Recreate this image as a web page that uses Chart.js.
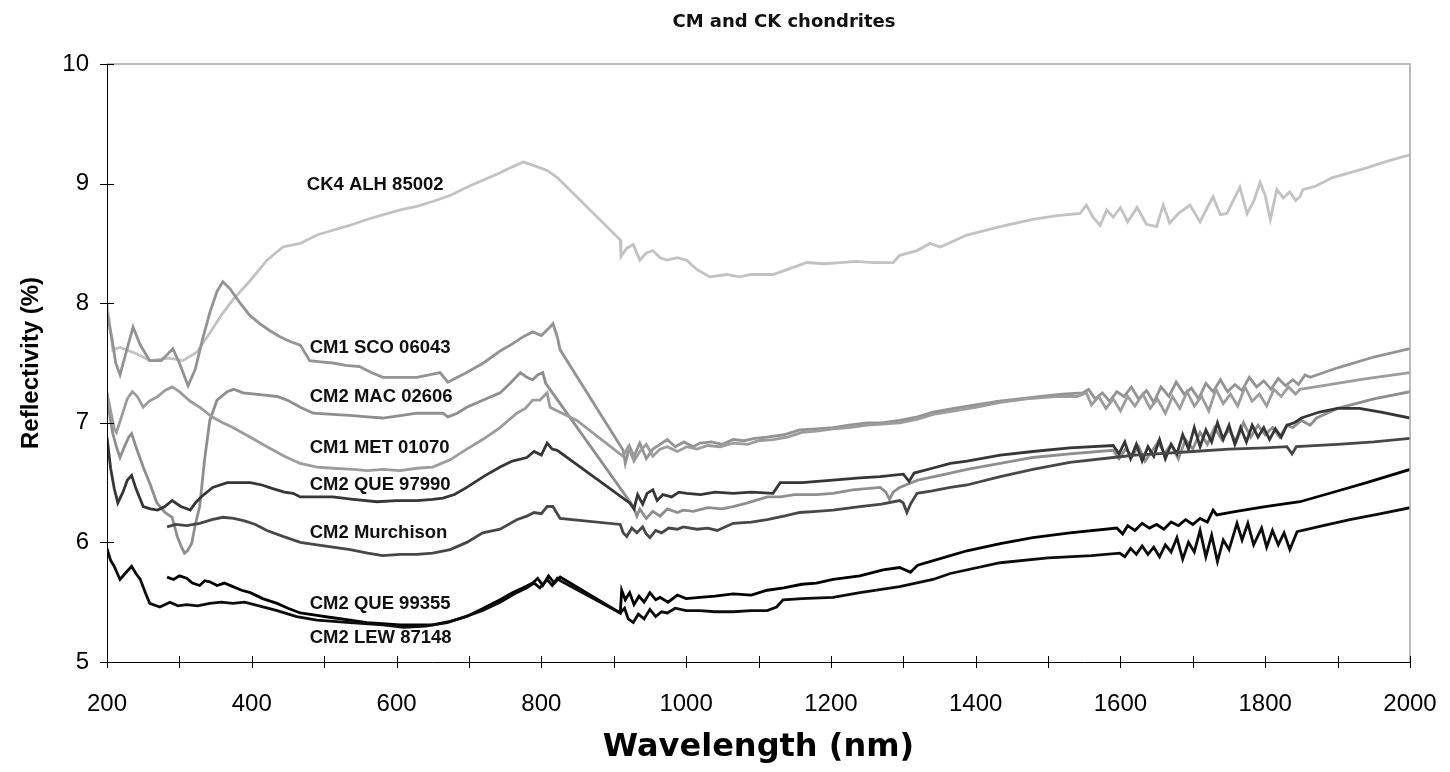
<!DOCTYPE html>
<html>
<head>
<meta charset="utf-8">
<title>CM and CK chondrites</title>
<script src="https://cdn.jsdelivr.net/npm/chart.js@4.4.1/dist/chart.umd.min.js"></script>
<style>
  html, body { margin: 0; padding: 0; background: #fff; }
  canvas { display: block; }
</style>
</head>
<body>
<canvas id="chart" width="1450" height="772"></canvas>
<script>
// spectra: [wavelength nm, reflectivity %]
const ck4Alh85002 = [
  [200,8.00],[208,7.61],[218,7.63],[240,7.58],[259,7.52],[285,7.54],[305,7.52],[324,7.59],[342,7.75],[358,7.90],
  [374,8.03],[398,8.19],[421,8.36],[443,8.47],[467,8.50],[490,8.57],[512,8.61],[535,8.65],[559,8.70],[582,8.74],
  [605,8.78],[628,8.81],[650,8.85],[674,8.90],[697,8.97],[720,9.03],[743,9.09],[760,9.14],[775,9.18],[790,9.15],
  [808,9.11],[822,9.05],[909,8.53],[910,8.39],[918,8.46],[927,8.49],[936,8.36],[945,8.42],[954,8.44],[964,8.38],
  [974,8.36],[988,8.38],[1001,8.36],[1015,8.28],[1033,8.22],[1056,8.24],[1074,8.22],[1090,8.24],[1102,8.24],[1120,8.24],
  [1148,8.30],[1167,8.34],[1190,8.33],[1213,8.34],[1235,8.35],[1258,8.34],[1286,8.34],[1295,8.40],[1319,8.44],[1337,8.50],
  [1351,8.47],[1388,8.57],[1434,8.64],[1479,8.70],[1510,8.73],[1544,8.75],[1553,8.82],[1562,8.72],[1572,8.65],[1581,8.78],
  [1590,8.72],[1600,8.80],[1610,8.68],[1623,8.80],[1636,8.66],[1650,8.64],[1659,8.82],[1668,8.67],[1680,8.75],[1696,8.82],
  [1710,8.68],[1720,8.80],[1728,8.89],[1738,8.74],[1747,8.75],[1756,8.86],[1765,8.97],[1775,8.75],[1784,8.85],[1793,9.01],
  [1800,8.90],[1807,8.70],[1816,8.95],[1825,8.88],[1834,8.93],[1842,8.86],[1848,8.89],[1852,8.95],[1870,8.98],[1893,9.05],
  [1939,9.13],[1970,9.19],[2000,9.24]
];
const cm1Sco06043 = [
  [200,7.92],[207,7.70],[212,7.50],[218,7.40],[226,7.58],[236,7.80],[246,7.65],[259,7.52],[275,7.52],[291,7.62],
  [300,7.50],[312,7.31],[322,7.45],[332,7.70],[342,7.92],[352,8.10],[360,8.18],[370,8.12],[384,8.00],[397,7.90],
  [411,7.83],[425,7.77],[439,7.72],[453,7.68],[467,7.65],[480,7.52],[495,7.51],[512,7.50],[530,7.48],[549,7.47],
  [565,7.42],[581,7.38],[605,7.38],[628,7.38],[645,7.40],[660,7.42],[671,7.34],[684,7.38],[697,7.42],[720,7.50],
  [743,7.60],[760,7.66],[775,7.72],[788,7.76],[800,7.73],[812,7.80],[816,7.83],[822,7.72],[826,7.61],[913,6.77],
  [916,6.66],[922,6.80],[928,6.72],[936,6.83],[945,6.70],[954,6.78],[964,6.82],[974,6.86],[985,6.80],[997,6.84],
  [1010,6.80],[1019,6.83],[1035,6.84],[1050,6.82],[1065,6.86],[1080,6.85],[1095,6.87],[1112,6.88],[1135,6.90],[1157,6.94],
  [1180,6.95],[1203,6.96],[1225,6.98],[1250,7.00],[1270,7.00],[1295,7.02],[1320,7.05],[1341,7.09],[1370,7.12],[1400,7.15],
  [1430,7.18],[1460,7.20],[1490,7.22],[1520,7.24],[1548,7.25],[1556,7.28],[1565,7.20],[1575,7.25],[1585,7.18],[1595,7.26],
  [1605,7.22],[1615,7.30],[1625,7.20],[1636,7.27],[1646,7.17],[1656,7.30],[1667,7.22],[1677,7.34],[1688,7.24],[1698,7.29],
  [1708,7.20],[1718,7.33],[1728,7.26],[1738,7.36],[1748,7.26],[1758,7.32],[1768,7.27],[1778,7.38],[1788,7.30],[1798,7.35],
  [1808,7.28],[1818,7.37],[1828,7.31],[1838,7.36],[1846,7.32],[1855,7.40],[1862,7.38],[1900,7.46],[1950,7.55],[2000,7.62]
];
const cm2Mac02606 = [
  [200,7.25],[204,7.05],[208,6.91],[213,6.80],[218,6.71],[224,6.80],[230,6.88],[234,6.91],[240,6.80],[250,6.63],
  [260,6.48],[269,6.33],[280,6.25],[290,6.21],[297,6.05],[303,5.96],[307,5.91],[311,5.93],[317,5.99],[322,6.15],
  [328,6.30],[335,6.70],[342,7.02],[352,7.19],[366,7.26],[375,7.28],[388,7.25],[405,7.24],[421,7.23],[435,7.22],
  [449,7.19],[467,7.13],[485,7.08],[512,7.07],[540,7.06],[560,7.05],[581,7.04],[605,7.06],[628,7.08],[650,7.08],
  [664,7.08],[671,7.05],[684,7.08],[697,7.13],[720,7.19],[743,7.25],[757,7.33],[771,7.42],[780,7.38],[788,7.36],
  [795,7.40],[802,7.42],[806,7.33],[927,6.30],[932,6.22],[936,6.28],[945,6.20],[954,6.26],[964,6.22],[974,6.28],
  [988,6.25],[996,6.27],[1010,6.26],[1030,6.29],[1050,6.28],[1065,6.30],[1085,6.33],[1112,6.38],[1130,6.38],[1150,6.40],
  [1180,6.40],[1203,6.41],[1230,6.44],[1268,6.46],[1276,6.42],[1281,6.36],[1286,6.42],[1295,6.46],[1320,6.52],[1365,6.58],
  [1388,6.61],[1434,6.66],[1479,6.71],[1530,6.74],[1590,6.77],[1598,6.70],[1607,6.78],[1616,6.72],[1625,6.80],[1634,6.68],
  [1643,6.76],[1652,6.84],[1661,6.74],[1670,6.82],[1680,6.70],[1690,6.86],[1700,6.78],[1710,6.92],[1720,6.82],[1730,6.96],
  [1740,6.86],[1750,6.94],[1760,6.84],[1770,7.00],[1780,6.88],[1790,6.98],[1800,6.90],[1810,6.96],[1820,6.88],[1830,6.98],
  [1838,6.96],[1850,7.02],[1862,6.98],[1871,7.04],[1900,7.12],[1950,7.20],[2000,7.26]
];
const cm1Met01070 = [
  [200,7.25],[205,7.10],[210,6.95],[213,6.92],[220,7.05],[228,7.20],[235,7.26],[242,7.22],[250,7.13],[258,7.18],
  [270,7.22],[280,7.27],[290,7.30],[300,7.26],[315,7.18],[328,7.13],[345,7.05],[360,7.00],[374,6.96],[398,6.88],
  [421,6.80],[445,6.72],[467,6.66],[490,6.63],[512,6.62],[540,6.61],[560,6.60],[581,6.61],[605,6.60],[628,6.62],
  [650,6.63],[674,6.69],[697,6.78],[719,6.86],[743,6.96],[766,7.08],[778,7.12],[788,7.19],[798,7.19],[808,7.25],
  [812,7.13],[849,7.02],[913,6.72],[920,6.80],[928,6.68],[936,6.76],[945,6.82],[954,6.72],[964,6.78],[974,6.80],
  [988,6.76],[1001,6.80],[1015,6.78],[1030,6.81],[1047,6.80],[1065,6.83],[1085,6.82],[1100,6.85],[1120,6.86],[1140,6.88],
  [1160,6.92],[1180,6.93],[1203,6.95],[1225,6.96],[1250,6.98],[1270,6.99],[1295,7.00],[1320,7.03],[1341,7.07],[1370,7.10],
  [1400,7.13],[1434,7.17],[1470,7.20],[1510,7.22],[1540,7.22],[1553,7.25],[1560,7.15],[1570,7.22],[1580,7.12],[1590,7.20],
  [1600,7.10],[1610,7.22],[1620,7.14],[1631,7.24],[1641,7.12],[1651,7.20],[1662,7.08],[1672,7.22],[1682,7.12],[1692,7.26],
  [1702,7.14],[1712,7.22],[1722,7.10],[1732,7.28],[1742,7.16],[1752,7.24],[1762,7.14],[1772,7.30],[1782,7.18],[1792,7.24],
  [1802,7.14],[1812,7.28],[1822,7.22],[1832,7.30],[1842,7.24],[1848,7.28],[1880,7.31],[1940,7.37],[2000,7.42]
];
const cm2Que97990 = [
  [200,6.88],[205,6.62],[210,6.45],[215,6.33],[222,6.42],[228,6.52],[234,6.56],[240,6.45],[250,6.30],[260,6.28],
  [270,6.27],[280,6.30],[290,6.35],[302,6.30],[315,6.27],[322,6.33],[330,6.38],[346,6.46],[366,6.50],[380,6.50],
  [398,6.50],[414,6.48],[429,6.45],[445,6.42],[457,6.41],[467,6.38],[490,6.38],[512,6.38],[540,6.36],[573,6.34],
  [600,6.35],[628,6.35],[650,6.36],[664,6.37],[680,6.40],[697,6.46],[720,6.55],[743,6.63],[760,6.68],[780,6.71],
  [790,6.76],[800,6.73],[808,6.83],[815,6.78],[822,6.77],[922,6.33],[928,6.28],[933,6.40],[940,6.32],[946,6.41],
  [954,6.44],[960,6.35],[968,6.40],[980,6.38],[990,6.42],[1001,6.41],[1020,6.40],[1040,6.42],[1065,6.41],[1090,6.42],
  [1120,6.41],[1130,6.50],[1160,6.50],[1203,6.52],[1240,6.54],[1268,6.55],[1300,6.57],[1308,6.51],[1315,6.58],[1340,6.62],
  [1365,6.66],[1388,6.68],[1434,6.73],[1479,6.76],[1530,6.79],[1590,6.81],[1598,6.74],[1606,6.84],[1614,6.70],[1622,6.82],
  [1630,6.68],[1638,6.80],[1646,6.72],[1654,6.86],[1662,6.70],[1670,6.82],[1678,6.74],[1686,6.90],[1694,6.78],[1702,6.96],
  [1710,6.80],[1718,6.94],[1726,6.84],[1734,7.00],[1742,6.86],[1750,6.98],[1758,6.82],[1766,6.96],[1774,6.84],[1782,6.98],
  [1790,6.88],[1798,6.96],[1806,6.86],[1814,6.95],[1822,6.88],[1830,6.98],[1840,7.00],[1850,7.04],[1875,7.09],[1900,7.12],
  [1930,7.12],[1960,7.09],[2000,7.04]
];
const cm2Murchison = [
  [283,6.13],[295,6.15],[310,6.14],[328,6.16],[345,6.19],[360,6.21],[375,6.20],[390,6.18],[405,6.15],[421,6.10],
  [443,6.05],[467,6.00],[490,5.98],[512,5.96],[536,5.94],[560,5.91],[581,5.89],[605,5.90],[628,5.90],[650,5.91],
  [674,5.94],[697,6.00],[719,6.08],[743,6.11],[766,6.19],[780,6.22],[790,6.25],[800,6.24],[808,6.30],[816,6.30],
  [822,6.24],[826,6.20],[909,6.15],[913,6.08],[918,6.05],[925,6.12],[932,6.08],[940,6.13],[945,6.07],[950,6.04],
  [958,6.10],[966,6.08],[976,6.12],[988,6.11],[996,6.13],[1015,6.11],[1030,6.12],[1043,6.10],[1065,6.16],[1090,6.17],
  [1112,6.19],[1135,6.22],[1157,6.25],[1180,6.26],[1203,6.27],[1240,6.30],[1270,6.32],[1295,6.35],[1300,6.33],[1305,6.25],
  [1310,6.32],[1319,6.41],[1340,6.43],[1365,6.46],[1388,6.48],[1434,6.55],[1479,6.61],[1530,6.67],[1590,6.71],[1620,6.73],
  [1650,6.74],[1700,6.76],[1750,6.78],[1800,6.79],[1830,6.80],[1837,6.74],[1843,6.80],[1900,6.82],[1950,6.84],[2000,6.87]
];
const cm2Que99355 = [
  [283,5.71],[292,5.69],[300,5.72],[310,5.70],[318,5.66],[328,5.64],[335,5.68],[342,5.67],[352,5.64],[362,5.66],
  [374,5.63],[386,5.60],[398,5.58],[415,5.53],[435,5.49],[450,5.45],[467,5.41],[490,5.39],[512,5.37],[536,5.35],
  [559,5.33],[580,5.32],[605,5.31],[628,5.31],[650,5.31],[674,5.34],[697,5.38],[720,5.45],[743,5.52],[760,5.58],
  [775,5.62],[788,5.66],[795,5.70],[802,5.64],[810,5.72],[818,5.66],[826,5.71],[909,5.41],[911,5.60],[916,5.52],
  [922,5.58],[928,5.48],[935,5.55],[942,5.50],[950,5.58],[958,5.52],[964,5.54],[975,5.50],[988,5.56],[1000,5.53],
  [1019,5.54],[1040,5.55],[1065,5.57],[1090,5.56],[1112,5.60],[1135,5.62],[1160,5.65],[1180,5.66],[1203,5.69],[1240,5.72],
  [1272,5.77],[1295,5.79],[1310,5.75],[1320,5.81],[1365,5.89],[1388,5.93],[1434,5.99],[1479,6.04],[1530,6.08],[1595,6.12],
  [1603,6.07],[1610,6.14],[1620,6.10],[1630,6.16],[1640,6.12],[1650,6.15],[1660,6.11],[1670,6.17],[1680,6.14],[1690,6.19],
  [1700,6.15],[1710,6.20],[1720,6.17],[1728,6.27],[1733,6.23],[1760,6.26],[1800,6.30],[1848,6.34],[1900,6.43],[1940,6.50],
  [2000,6.61]
];
const cm2Lew87148 = [
  [200,5.95],[205,5.85],[210,5.80],[218,5.69],[225,5.74],[234,5.80],[240,5.74],[246,5.69],[253,5.58],[259,5.49],
  [273,5.46],[287,5.50],[298,5.47],[310,5.48],[325,5.47],[342,5.49],[358,5.50],[374,5.49],[390,5.50],[410,5.47],
  [435,5.43],[462,5.38],[490,5.35],[536,5.33],[581,5.31],[610,5.29],[640,5.30],[670,5.33],[695,5.38],[719,5.43],
  [743,5.50],[766,5.58],[780,5.62],[790,5.66],[798,5.62],[808,5.69],[815,5.64],[822,5.70],[826,5.68],[909,5.41],
  [915,5.45],[920,5.36],[927,5.33],[934,5.40],[942,5.36],[950,5.44],[958,5.38],[966,5.42],[974,5.41],[985,5.45],
  [1000,5.43],[1019,5.43],[1040,5.42],[1065,5.42],[1090,5.43],[1112,5.43],[1125,5.46],[1134,5.52],[1160,5.53],[1203,5.54],
  [1240,5.58],[1295,5.63],[1341,5.69],[1365,5.74],[1434,5.83],[1500,5.87],[1560,5.89],[1599,5.91],[1606,5.88],[1614,5.95],
  [1622,5.90],[1630,5.97],[1638,5.90],[1646,5.96],[1654,5.88],[1662,5.98],[1670,5.92],[1678,6.04],[1686,5.86],[1694,6.00],
  [1702,5.92],[1710,6.10],[1718,5.88],[1726,6.06],[1734,5.84],[1742,6.02],[1750,5.94],[1761,6.16],[1768,6.02],[1776,6.16],
  [1784,5.98],[1795,6.12],[1802,5.96],[1810,6.10],[1818,5.98],[1826,6.08],[1834,5.94],[1838,6.00],[1844,6.09],[1880,6.14],
  [1917,6.19],[1960,6.24],[2000,6.29]
];

const xTickValues = [200, 300, 400, 500, 600, 700, 800, 900, 1000, 1100, 1200, 1300, 1400, 1500, 1600, 1700, 1800, 1900, 2000];
const yTickValues = [5, 6, 7, 8, 9, 10];

// sample names written beside the curves, anchored in data units
const curveLabels = [
  { text: 'CK4 ALH 85002', wl: 476, refl: 8.99 },
  { text: 'CM1 SCO 06043', wl: 480, refl: 7.63 },
  { text: 'CM2 MAC 02606', wl: 480, refl: 7.22 },
  { text: 'CM1 MET 01070', wl: 480, refl: 6.79 },
  { text: 'CM2 QUE 97990', wl: 480, refl: 6.48 },
  { text: 'CM2 Murchison', wl: 480, refl: 6.08 },
  { text: 'CM2 QUE 99355', wl: 480, refl: 5.485 },
  { text: 'CM2 LEW 87148', wl: 480, refl: 5.20 }
];

const chartTitle = 'CM and CK chondrites';

function toPoints(pairs) {
  return pairs.map(p => ({ x: p[0], y: p[1] }));
}

function spectrum(label, pairs, color) {
  return {
    label: label,
    data: toPoints(pairs),
    borderColor: color,
    backgroundColor: color,
    borderWidth: 2.8,
    pointRadius: 0,
    tension: 0,
    fill: false
  };
}

// tick marks across the axes, the grey top/right frame and the title
const framePlugin = {
  id: 'frame',
  afterDraw(chart) {
    const ctx = chart.ctx;
    const area = chart.chartArea;
    const xs = chart.scales.x;
    const ys = chart.scales.y;
    ctx.save();
    ctx.strokeStyle = '#a6a6a6';
    ctx.lineWidth = 1.5;
    ctx.beginPath();
    ctx.moveTo(area.left, area.top);
    ctx.lineTo(area.right, area.top);
    ctx.lineTo(area.right, area.bottom);
    ctx.stroke();

    ctx.strokeStyle = '#000';
    ctx.lineWidth = 1;
    ctx.beginPath();
    xTickValues.forEach(v => {
      const px = Math.round(xs.getPixelForValue(v)) + 0.5;
      ctx.moveTo(px, area.bottom - 6);
      ctx.lineTo(px, area.bottom + 6);
    });
    yTickValues.forEach(v => {
      const py = Math.round(ys.getPixelForValue(v)) + 0.5;
      ctx.moveTo(area.left - 7, py);
      ctx.lineTo(area.left + 7, py);
    });
    ctx.moveTo(area.left + 0.5, area.top);
    ctx.lineTo(area.left + 0.5, area.bottom);
    ctx.moveTo(area.left, area.bottom + 0.5);
    ctx.lineTo(area.right, area.bottom + 0.5);
    ctx.stroke();

    ctx.fillStyle = '#111';
    ctx.font = 'bold 18px "DejaVu Sans", sans-serif';
    ctx.textAlign = 'center';
    ctx.textBaseline = 'middle';
    ctx.fillText(chartTitle, 784, 22);
    ctx.restore();
  }
};

const labelPlugin = {
  id: 'curveLabels',
  afterDatasetsDraw(chart) {
    const ctx = chart.ctx;
    const xs = chart.scales.x;
    const ys = chart.scales.y;
    ctx.save();
    ctx.font = 'bold 18.5px "Liberation Sans", Arial, sans-serif';
    ctx.fillStyle = '#111';
    ctx.textAlign = 'left';
    ctx.textBaseline = 'middle';
    curveLabels.forEach(l => {
      ctx.fillText(l.text, xs.getPixelForValue(l.wl), ys.getPixelForValue(l.refl));
    });
    ctx.restore();
  }
};

new Chart(document.getElementById('chart'), {
  type: 'line',
  data: {
    datasets: [
      spectrum('CM2 LEW 87148', cm2Lew87148, '#0d0d0d'),
      spectrum('CM2 QUE 99355', cm2Que99355, '#000000'),
      spectrum('CM2 Murchison', cm2Murchison, '#474747'),
      spectrum('CM2 QUE 97990', cm2Que97990, '#363636'),
      spectrum('CM1 MET 01070', cm1Met01070, '#9c9c9c'),
      spectrum('CM2 MAC 02606', cm2Mac02606, '#8e8e8e'),
      spectrum('CM1 SCO 06043', cm1Sco06043, '#939393'),
      spectrum('CK4 ALH 85002', ck4Alh85002, '#c2c2c2')
    ]
  },
  options: {
    responsive: false,
    animation: false,
    devicePixelRatio: 1,
    layout: { padding: { left: 0, right: 40, top: 64, bottom: 0 } },
    plugins: {
      legend: { display: false },
      tooltip: { enabled: false },
      title: { display: false }
    },
    scales: {
      x: {
        type: 'linear',
        min: 200,
        max: 2000,
        afterBuildTicks: scale => { scale.ticks = xTickValues.map(v => ({ value: v })); },
        afterFit: scale => {
          scale.height = 110;
          scale.paddingLeft = 0;
          scale.paddingRight = 0;
        },
        grid: { display: false },
        border: { display: false },
        ticks: {
          padding: 20,
          color: '#000',
          maxRotation: 0,
          autoSkip: false,
          font: { family: '"Liberation Sans", Arial, sans-serif', size: 24 },
          callback: v => (v % 200 === 0 ? String(v) : '')
        },
        title: {
          display: true,
          text: 'Wavelength (nm)',
          color: '#000',
          font: { family: '"DejaVu Sans", sans-serif', size: 32, weight: 'bold' },
          padding: { top: 0, bottom: 5 }
        }
      },
      y: {
        type: 'linear',
        min: 5,
        max: 10,
        afterBuildTicks: scale => { scale.ticks = yTickValues.map(v => ({ value: v })); },
        afterFit: scale => { scale.width = 107; },
        grid: { display: false },
        border: { display: false },
        ticks: {
          padding: 10,
          color: '#000',
          font: { family: '"Liberation Sans", Arial, sans-serif', size: 24 }
        },
        title: {
          display: true,
          text: 'Reflectivity (%)',
          color: '#000',
          font: { family: '"Liberation Sans", Arial, sans-serif', size: 24, weight: 'bold' },
          padding: { top: 17, bottom: 0 }
        }
      }
    }
  },
  plugins: [framePlugin, labelPlugin]
});
</script>
</body>
</html>
